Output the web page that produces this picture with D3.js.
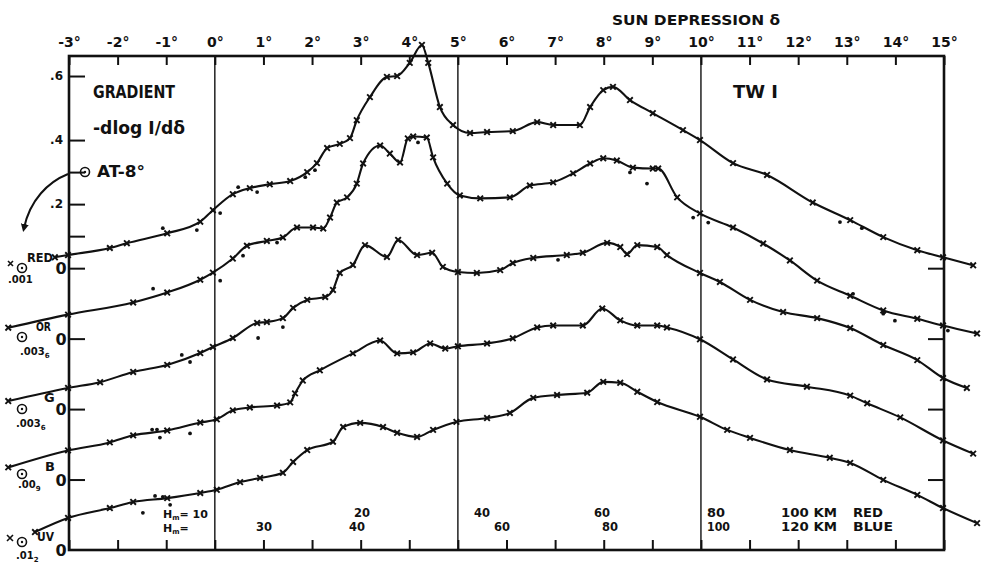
<!DOCTYPE html>
<html><head><meta charset="utf-8">
<script src="https://cdn.jsdelivr.net/npm/d3@7"></script>
<style>
body{margin:0;background:#fff}
text{font-family:"DejaVu Sans",sans-serif;font-weight:bold;fill:#111}
</style>
</head><body>
<svg id="chart" width="983" height="565"></svg>
<script>
// ---- data (sun depression in degrees, gradient -dlog I/dδ relative to each band's zero) ----
const degTicks = d3.range(-3, 16);
const bandNames = ["RED", "OR", "G", "B", "UV"];
const bandScales = [".001", ".003", ".003", ".00", ".01"];
const bandSubs = ["", "6", "6", "9", "2"];
const zeroOffsets = [0, -0.22, -0.44, -0.66, -0.88];
const gradTicks = [0.6, 0.4, 0.3, 0.2, 0.1];
const gradLabels = [".6", ".4", "", ".2", ""];

const redCurve = [[-3.29,0.034],[-3.02,0.041],[-2.16,0.063],[-1.81,0.078],[-0.98,0.109],[-0.30,0.145],[-0.04,0.181],[0.37,0.231],[0.72,0.25],[1.13,0.262],[1.55,0.272],[1.90,0.30],[2.10,0.328],[2.31,0.375],[2.57,0.388],[2.78,0.406],[2.92,0.462],[3.19,0.534],[3.54,0.597],[3.75,0.60],[4.01,0.641],[4.26,0.697],[4.39,0.641],[4.63,0.503],[4.90,0.447],[5.25,0.422],[5.60,0.425],[6.13,0.428],[6.63,0.456],[6.96,0.447],[7.51,0.447],[7.72,0.503],[7.99,0.556],[8.19,0.566],[8.54,0.525],[9.01,0.484],[9.63,0.431],[9.98,0.40],[10.66,0.328],[11.36,0.291],[12.30,0.205],[13.07,0.15],[13.75,0.097],[14.45,0.056],[14.98,0.034],[15.60,0.009]];
const orCurve = [[-4.25,0.034],[-3.02,0.075],[-1.68,0.113],[-0.98,0.144],[-0.30,0.184],[-0.04,0.206],[0.37,0.25],[0.66,0.290],[1.07,0.305],[1.40,0.316],[1.69,0.347],[2.02,0.347],[2.23,0.344],[2.37,0.378],[2.51,0.425],[2.72,0.441],[2.92,0.484],[3.05,0.547],[3.40,0.603],[3.60,0.578],[3.81,0.55],[3.97,0.625],[4.08,0.631],[4.36,0.628],[4.49,0.566],[4.78,0.484],[5.04,0.447],[5.46,0.438],[6.07,0.441],[6.48,0.478],[6.96,0.488],[7.37,0.516],[7.72,0.547],[7.99,0.563],[8.27,0.556],[8.60,0.534],[9.01,0.531],[9.12,0.531],[9.51,0.441],[9.98,0.391],[10.66,0.347],[11.28,0.297],[11.83,0.244],[12.39,0.181],[13.07,0.134],[13.75,0.088],[14.45,0.062],[14.98,0.041],[15.68,0.016]];
const gCurve = [[-4.25,0.025],[-3.02,0.066],[-2.36,0.084],[-1.68,0.116],[-0.98,0.138],[-0.30,0.175],[-0.04,0.194],[0.37,0.222],[0.87,0.269],[1.07,0.272],[1.40,0.284],[1.61,0.316],[1.90,0.341],[2.27,0.35],[2.43,0.372],[2.57,0.425],[2.84,0.45],[3.09,0.512],[3.54,0.475],[3.77,0.528],[4.16,0.481],[4.47,0.488],[4.69,0.444],[5.00,0.428],[5.39,0.425],[5.87,0.434],[6.13,0.456],[6.55,0.472],[7.24,0.481],[7.57,0.488],[8.07,0.519],[8.34,0.506],[8.48,0.484],[8.69,0.512],[9.10,0.506],[9.30,0.481],[9.98,0.425],[10.39,0.397],[11.01,0.341],[11.69,0.303],[12.39,0.284],[13.07,0.253],[13.75,0.20],[14.45,0.153],[14.98,0.097],[15.47,0.066]];
const bCurve = [[-4.25,0.038],[-3.02,0.091],[-2.16,0.116],[-1.68,0.138],[-0.98,0.153],[-0.30,0.178],[0.04,0.188],[0.37,0.216],[0.72,0.225],[1.28,0.231],[1.55,0.241],[1.65,0.269],[1.81,0.309],[2.16,0.341],[2.84,0.394],[3.40,0.434],[3.75,0.394],[4.08,0.397],[4.43,0.425],[4.74,0.409],[5.00,0.416],[5.60,0.425],[6.13,0.441],[6.63,0.475],[6.96,0.481],[7.57,0.481],[7.97,0.534],[8.34,0.497],[8.69,0.481],[9.10,0.481],[9.30,0.475],[9.98,0.438],[10.66,0.375],[11.36,0.3125],[12.18,0.29],[13.07,0.262],[13.42,0.238],[14.10,0.194],[14.98,0.122],[15.60,0.081]];
const uvCurve = [[-3.70,0.056],[-3.02,0.10],[-2.16,0.131],[-1.68,0.15],[-0.98,0.162],[-0.30,0.178],[0.04,0.188],[0.52,0.212],[0.93,0.225],[1.40,0.241],[1.61,0.275],[1.90,0.312],[2.43,0.338],[2.64,0.384],[2.99,0.397],[3.46,0.384],[3.75,0.366],[4.16,0.353],[4.49,0.375],[4.97,0.40],[5.60,0.412],[6.07,0.428],[6.55,0.475],[7.04,0.484],[7.66,0.491],[7.99,0.525],[8.34,0.522],[8.69,0.494],[9.10,0.462],[9.98,0.416],[10.54,0.375],[11.01,0.35],[11.83,0.312],[12.65,0.288],[13.07,0.272],[13.75,0.219],[14.45,0.172],[14.98,0.131],[15.68,0.084]];

const redDots = [[-1.07,0.125],[-0.37,0.119],[0.11,0.172],[0.48,0.253],[0.87,0.2375],[1.86,0.284],[2.06,0.306],[12.86,0.144],[13.31,0.125]];
const orDots = [[-1.27,0.156],[0.11,0.181],[0.58,0.259],[1.28,0.30],[4.18,0.6125],[8.54,0.519],[8.89,0.484],[9.84,0.378],[10.15,0.3625],[13.13,0.14],[13.75,0.078],[13.99,0.056],[15.08,0.025]];
const gDots = [[-0.68,0.169],[-0.51,0.147],[0.89,0.222],[1.40,0.256],[7.06,0.466]];
const bDots = [[-1.29,0.156],[-1.19,0.156],[-1.13,0.131],[-0.51,0.144]];
const uvDots = [[-1.48,0.116],[-1.23,0.169],[-1.07,0.166],[-0.92,0.141]];

const curves = [redCurve, orCurve, gCurve, bCurve, uvCurve];
const dots = [redDots, orDots, gDots, bDots, uvDots];

// ---- drawing ----
const svg = d3.select("#chart");
const x = d3.scaleLinear().domain([-3, 15]).range([69, 944]);
const y = d3.scaleLinear().domain([-0.88, 0.6625]).range([550, 56]);
const ink = "#111";

// frame
svg.append("rect").attr("x", x(-3)).attr("y", y(0.6625))
  .attr("width", x(15) - x(-3)).attr("height", y(-0.88) - y(0.6625))
  .attr("fill", "none").attr("stroke", ink).attr("stroke-width", 2.6);

// vertical reference lines
svg.selectAll("line.vref").data([0, 5, 10]).join("line")
  .attr("x1", d => x(d)).attr("x2", d => x(d))
  .attr("y1", y(0.6625)).attr("y2", y(-0.88))
  .attr("stroke", ink).attr("stroke-width", 1.4);

// top axis
const topAxis = svg.append("g").attr("transform", `translate(0,${y(0.6625)})`)
  .call(d3.axisTop(x).tickValues(degTicks).tickSize(-9).tickPadding(9)
    .tickFormat(d => (d < 0 ? "-" + (-d) : d) + "°"));
topAxis.select(".domain").remove();
topAxis.selectAll("line").attr("stroke", ink).attr("stroke-width", 2);
topAxis.selectAll("text").style("font-size", "14px").style("font-family", "DejaVu Sans").style("font-weight", "bold").attr("fill", ink);

// bottom axis ticks
const botAxis = svg.append("g").attr("transform", `translate(0,${y(-0.88)})`)
  .call(d3.axisBottom(x).tickValues(degTicks).tickSize(-10).tickFormat(""));
botAxis.select(".domain").remove();
botAxis.selectAll("line").attr("stroke", ink).attr("stroke-width", 2);

// left axis ticks
const leftAxis = svg.append("g").attr("transform", `translate(${x(-3)},0)`)
  .call(d3.axisLeft(y).tickValues(gradTicks.concat(zeroOffsets.slice(0, 4))).tickSize(-16).tickPadding(6)
    .tickFormat(d => { const i = gradTicks.indexOf(d); return i >= 0 ? gradLabels[i] : ""; }));
leftAxis.select(".domain").remove();
leftAxis.selectAll("line").attr("stroke", ink).attr("stroke-width", 2);
leftAxis.selectAll("text").style("font-size", "12px").style("font-family", "DejaVu Sans").style("font-weight", "bold").attr("fill", ink);

// right axis ticks
const rightAxis = svg.append("g").attr("transform", `translate(${x(15)},0)`)
  .call(d3.axisRight(y).tickValues(zeroOffsets.slice(0, 4)).tickSize(-16).tickFormat(""));
rightAxis.select(".domain").remove();
rightAxis.selectAll("line").attr("stroke", ink).attr("stroke-width", 2);

// curves
const line = d3.line().x(d => x(d[0])).curve(d3.curveMonotoneX);
curves.forEach((c, i) => {
  const off = zeroOffsets[i];
  svg.append("path").datum(c)
    .attr("d", line.y(d => y(d[1] + off)))
    .attr("fill", "none").attr("stroke", ink).attr("stroke-width", 2.1);
  svg.append("g").selectAll("path").data(c).join("path")
    .attr("transform", d => `translate(${x(d[0])},${y(d[1] + off)})`)
    .attr("d", d3.symbol(d3.symbolX, 22))
    .attr("fill", "none").attr("stroke", ink).attr("stroke-width", 1.9);
  svg.append("g").selectAll("circle").data(dots[i]).join("circle")
    .attr("cx", d => x(d[0])).attr("cy", d => y(d[1] + off)).attr("r", 1.9).attr("fill", ink);
});

// titles
function txt(s, px, py, size, opts = {}) {
  const t = svg.append("text").attr("x", px).attr("y", py).style("font-size", size + "px").text(s);
  if (opts.len) t.attr("textLength", opts.len).attr("lengthAdjust", "spacingAndGlyphs");
  if (opts.anchor) t.attr("text-anchor", opts.anchor);
  return t;
}
txt("SUN DEPRESSION δ", 612, 25, 14, {len: 168});
txt("GRADIENT", 93, 98, 17, {len: 82});
txt("-dlog I/dδ", 93, 134, 17, {len: 92});
txt("AT-8°", 97, 177, 15, {len: 48});
txt("TW I", 733, 98, 17, {len: 45});

function bullseye(cx, cy) {
  svg.append("circle").attr("cx", cx).attr("cy", cy).attr("r", 4.5).attr("fill", "none").attr("stroke", ink).attr("stroke-width", 1.6);
  svg.append("circle").attr("cx", cx).attr("cy", cy).attr("r", 1.2).attr("fill", ink);
}
bullseye(85, 172);

// arrow
svg.append("defs").append("marker").attr("id", "ah").attr("viewBox", "0 0 10 10")
  .attr("refX", 5).attr("refY", 5).attr("markerWidth", 4).attr("markerHeight", 5).attr("orient", "auto")
  .append("path").attr("d", "M0,0 L10,5 L0,10 Z").attr("fill", ink);
svg.append("path").attr("d", "M68,174 C48,182 30,200 24,228")
  .attr("fill", "none").attr("stroke", ink).attr("stroke-width", 2).attr("marker-end", "url(#ah)");

// band labels at left
const bandLabelPos = [[27, 262, 26], [36, 331, 15], [44, 402, 0], [45, 471, 0], [37, 541, 17]];
const bullPos = [[22, 268], [22, 337], [22, 409], [22, 474], [22, 542]];
const scalePos = [[8, 283], [20, 355], [16, 427], [18, 488], [16, 559]];
bandNames.forEach((n, i) => {
  const p = bandLabelPos[i];
  txt(n, p[0], p[1], 13, p[2] ? {len: p[2]} : {});
  txt("0", 61, y(zeroOffsets[i]) + 6, 16, {anchor: "middle"});
  bullseye(bullPos[i][0], bullPos[i][1]);
  const t = txt(bandScales[i], scalePos[i][0], scalePos[i][1], 10);
  if (bandSubs[i]) t.append("tspan").attr("dy", 3).style("font-size", "7px").text(bandSubs[i]);
});
svg.append("path").attr("d", "M8,261 L13,266 M13,261 L8,266").attr("stroke", ink).attr("stroke-width", 1.6);
svg.append("path").attr("d", "M7,535 L13,541 M13,535 L7,541").attr("stroke", ink).attr("stroke-width", 1.6);

// scale heights (Hm rows)
function hm(px, py, rest, len) {
  const t = svg.append("text").attr("x", px).attr("y", py).style("font-size", "11px").text("H");
  t.append("tspan").attr("dy", 2).style("font-size", "7px").text("m");
  t.append("tspan").attr("dy", -2).text(rest);
  return t;
}
hm(163, 518, "= 10");
hm(163, 532, "=");
const row1 = [["20", 362], ["40", 482], ["60", 602]];
const row2 = [["30", 264], ["40", 357], ["60", 502], ["80", 610]];
row1.forEach(r => txt(r[0], r[1], 517, 11.5, {anchor: "middle"}));
row2.forEach(r => txt(r[0], r[1], 531, 11.5, {anchor: "middle"}));
txt("80", 707, 517, 11.5, {len: 18});
txt("100", 707, 531, 11.5, {len: 23});
txt("100 KM", 781, 517, 11.5, {len: 56});
txt("RED", 853, 517, 11.5, {len: 30});
txt("120 KM", 781, 531, 11.5, {len: 56});
txt("BLUE", 853, 531, 11.5, {len: 40});
</script>
</body></html>
